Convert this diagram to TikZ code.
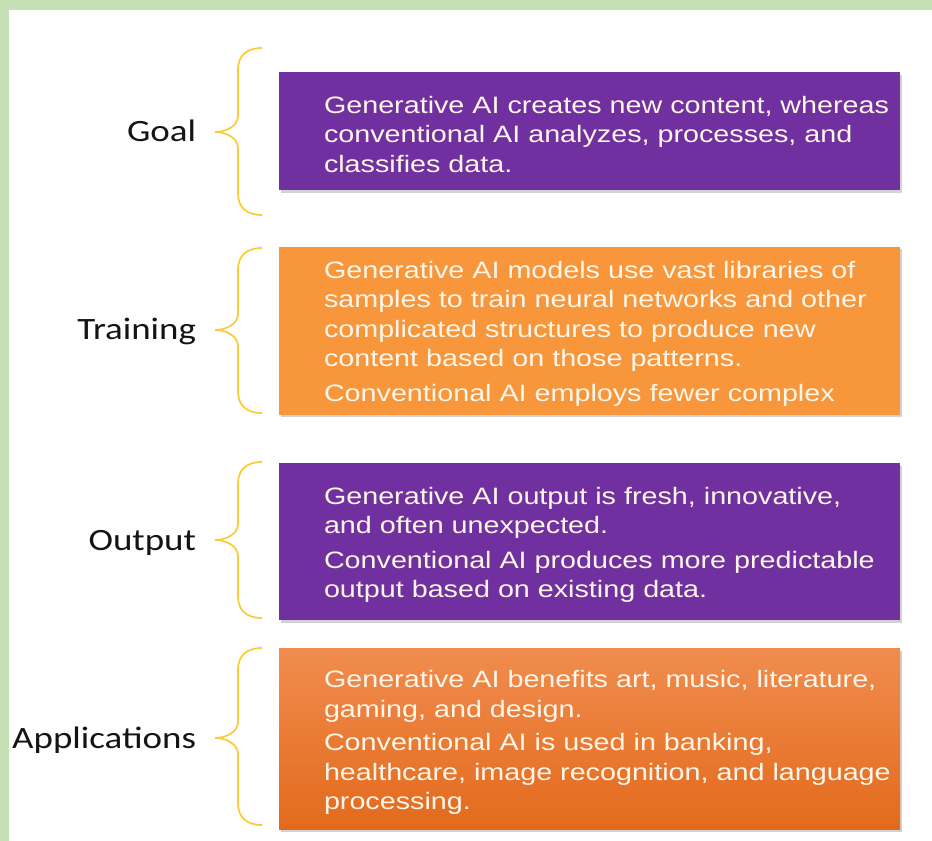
\documentclass[tikz,border=0pt]{standalone}
\usepackage{fontspec}
\usepackage{tikz}
\usetikzlibrary{positioning,shadows}
\newfontfamily\boxfont[FakeStretch=1.21]{Liberation Sans}
\newfontfamily\labelfont[FakeStretch=1.19]{Carlito}
\definecolor{framegreen}{RGB}{197,224,180}
\definecolor{boxpurple}{RGB}{112,48,160}
\definecolor{boxorange}{RGB}{248,150,60}
\definecolor{apporangetop}{RGB}{240,140,78}
\definecolor{apporangebot}{RGB}{227,106,28}
\definecolor{bracegold}{RGB}{250,204,60}
\definecolor{boxtextcol}{RGB}{255,246,234}
\definecolor{labelcol}{RGB}{20,20,20}
\tikzset{
  cmpbox/.style={
    rectangle, inner sep=0pt, minimum width=465.75pt,
    drop shadow={shadow xshift=1.5pt, shadow yshift=-2pt, opacity=0.35}
  },
  cmptext/.style={
    inner sep=0pt, align=left, text=boxtextcol, yshift=-2.5pt,
    font=\boxfont\fontsize{17.8}{22.1}\selectfont
  },
  rowlabel/.style={
    inner sep=0pt, text=labelcol, text height=18pt, text depth=3pt,
    font=\labelfont\fontsize{23.3}{28}\selectfont
  },
  bracepen/.style={draw=bracegold, line width=1.3pt}
}
% #1 tip name, #2 top y, #3 tip y, #4 bottom y
\newcommand\sidebrace[4]{%
  \draw[bracepen] (262,#2) .. controls (246,#2) and (238,#2+8) .. (238,#2+22)
    -- (238,#3-16) .. controls (238,#3-6) and (226,#3) .. (215,#3) coordinate (#1)
    .. controls (226,#3) and (238,#3+6) .. (238,#3+16)
    -- (238,#4-22) .. controls (238,#4-8) and (246,#4) .. (262,#4);}

\begin{document}
\begin{tikzpicture}[x=0.75pt, y=-0.75pt]

% ---- frame ----
\useasboundingbox (0,0) rectangle (932,841);
\fill[white] (0,0) rectangle (932,841);
\fill[framegreen] (0,0) rectangle (932,10);
\fill[framegreen] (0,0) rectangle (9,841);

% ---- boxes (first one placed, the rest stack below) ----
\node[cmpbox, fill=boxpurple, minimum height=88.5pt] (goalbox) at (589.5,131) {};
\node[cmpbox, fill=boxorange, minimum height=126pt, below=42pt of goalbox] (trainbox) {};
\node[cmpbox, fill=boxpurple, minimum height=117.75pt, below=36pt of trainbox] (outbox) {};
\node[cmpbox, top color=apporangetop, bottom color=apporangebot, minimum height=135.75pt,
  below=21pt of outbox] (appbox) {};

% ---- box texts ----
\node[cmptext, right=33.75pt of goalbox.west] (goaltext) {
  Generative AI creates new content, whereas\\
  conventional AI analyzes, processes, and\\
  classifies data.};
\node[cmptext, right=33.75pt of trainbox.west] (traintext) {
  Generative AI models use vast libraries of\\
  samples to train neural networks and other\\
  complicated structures to produce new\\
  content based on those patterns.\\[4pt]
  Conventional AI employs fewer complex};
\node[cmptext, right=33.75pt of outbox.west] (outtext) {
  Generative AI output is fresh, innovative,\\
  and often unexpected.\\[4pt]
  Conventional AI produces more predictable\\
  output based on existing data.};
\node[cmptext, right=33.75pt of appbox.west] (apptext) {
  Generative AI benefits art, music, literature,\\
  gaming, and design.\\[3pt]
  Conventional AI is used in banking,\\
  healthcare, image recognition, and language\\
  processing.};

% ---- braces ----
\sidebrace{goaltip}{48}{132}{215}
\sidebrace{traintip}{248}{330}{413}
\sidebrace{outtip}{462}{540}{618}
\sidebrace{apptip}{648}{738}{825}

% ---- labels ----
\node[rowlabel, left=14pt of goaltip] (goallabel) {Goal};
\node[rowlabel, left=14pt of traintip] (trainlabel) {Training};
\node[rowlabel, left=14pt of outtip] (outlabel) {Output};
\node[rowlabel, left=14pt of apptip] (applabel) {Applications};

\end{tikzpicture}
\end{document}
